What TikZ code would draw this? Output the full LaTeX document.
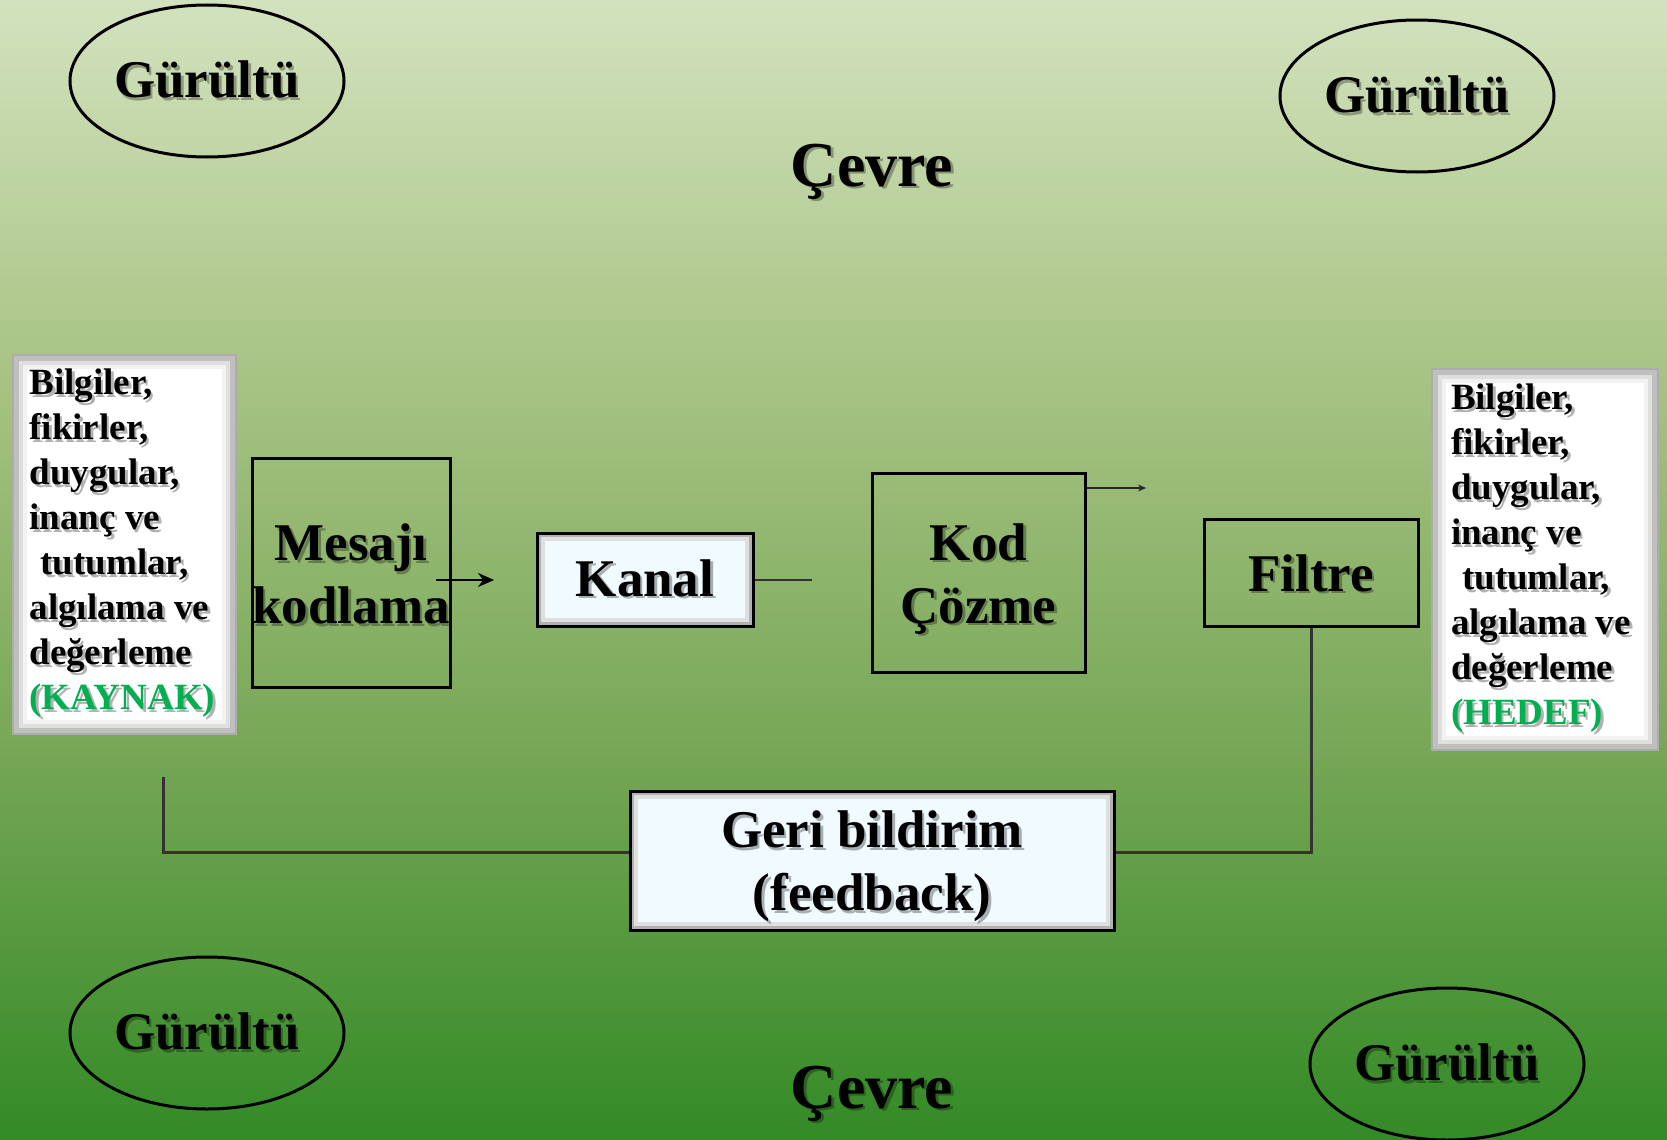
\documentclass[tikz,border=0pt]{standalone}
\usepackage{fontspec}
\setmainfont{Liberation Serif}
\usetikzlibrary{shapes.geometric,arrows.meta}
\definecolor{ctop}{HTML}{D3E2BE}
\definecolor{cm1}{HTML}{A7C383}
\definecolor{cm2}{HTML}{75A655}
\definecolor{cbot}{HTML}{338A26}
\definecolor{kgreen}{HTML}{00B050}
\definecolor{boxfill}{HTML}{F0FAFF}
\pgfdeclareverticalshading{bgshade}{100bp}{color(0bp)=(cbot); color(25bp)=(cbot); color(41.67bp)=(cm2); color(58.33bp)=(cm1); color(75bp)=(ctop); color(100bp)=(ctop)}
% text with a soft drop shadow
\newcommand\sh[1]{\leavevmode\rlap{\pgfsetfillopacity{0.3}\kern1.3pt\raisebox{-1.3pt}{\textcolor{black}{#1}}}\pgfsetfillopacity{1}#1}
\newcommand\shc[2]{\leavevmode\rlap{\pgfsetfillopacity{0.3}\kern1.3pt\raisebox{-1.3pt}{\textcolor{black}{#2}}}\pgfsetfillopacity{1}\textcolor{#1}{#2}}
\newcommand\twoline[3]{\raisebox{#1}[\height][\depth]{\begin{tabular}{@{}c@{}}#2\\#3\end{tabular}}}
\tikzset{
  big/.style={font=\fontsize{26.5pt}{31.5pt}\selectfont\bfseries},
  small/.style={font=\fontsize{18.5pt}{22.5pt}\selectfont\bfseries},
  noise/.style={ellipse, draw, line width=1.5pt, minimum width=137pt, minimum height=76pt, inner sep=0pt, big},
  plainbox/.style={rectangle, draw, line width=1.5pt, inner sep=0pt, big, align=center},
  bevelbox/.style={rectangle, draw, line width=1.5pt, fill=boxfill, inner sep=0pt, big, align=center,
    path picture={
      \draw[gray!60, line width=4pt] (path picture bounding box.south west) rectangle (path picture bounding box.north east);
      \draw[gray!25, line width=2pt] ([shift={(3pt,3pt)}]path picture bounding box.south west) rectangle ([shift={(-3pt,-3pt)}]path picture bounding box.north east);}},
  infobox/.style={rectangle, draw=gray!65, line width=1pt, fill=white, inner sep=0pt, small, align=flush left,
    path picture={
      \draw[gray!50, line width=6pt] (path picture bounding box.south west) rectangle (path picture bounding box.north east);
      \draw[gray!25, line width=2pt] ([shift={(4pt,4pt)}]path picture bounding box.south west) rectangle ([shift={(-4pt,-4pt)}]path picture bounding box.north east);
      \draw[gray!10, line width=2pt] ([shift={(6pt,6pt)}]path picture bounding box.south west) rectangle ([shift={(-6pt,-6pt)}]path picture bounding box.north east);}},
  fb/.style={draw=black!80, line width=1.5pt},
  envtext/.style={font=\fontsize{32pt}{38pt}\selectfont\bfseries, anchor=base, inner sep=0pt}
}
\begin{document}
\begin{tikzpicture}[x=0.5pt, y=-0.5pt]
\useasboundingbox (0,0) rectangle (1667,1140);
\fill[shading=bgshade] (0,0) rectangle (1667,1140);

% noise ellipses
\node[noise] (g1) at (207,81) {\sh{Gürültü}};
\node[noise] (g2) at (1417,96) {\sh{Gürültü}};
\node[noise] (g3) at (207,1033) {\sh{Gürültü}};
\node[noise] (g4) at (1447,1064) {\sh{Gürültü}};

% environment
\node[envtext] (cev1) at (872,186) {\sh{Çevre}};
\node[envtext] (cev2) at (872,1108) {\sh{Çevre}};

% source and target
\node[infobox, minimum width=111.5pt, minimum height=189.5pt, text width=95pt] (src) at (124.5,544.5)
  {\sh{Bilgiler,}\\ \sh{fikirler,}\\ \sh{duygular,}\\ \sh{inanç ve}\\ \hspace*{0.3em}\sh{tutumlar,}\\ \sh{algılama ve}\\ \sh{değerleme}\\ \shc{kgreen}{(KAYNAK)}};
\node[infobox, minimum width=113pt, minimum height=190.5pt, text width=94pt] (dst) at (1545,559.5)
  {\sh{Bilgiler,}\\ \sh{fikirler,}\\ \sh{duygular,}\\ \sh{inanç ve}\\ \hspace*{0.3em}\sh{tutumlar,}\\ \sh{algılama ve}\\ \sh{değerleme}\\ \shc{kgreen}{(HEDEF)}};

% process boxes
\node[plainbox, minimum width=99pt, minimum height=114.5pt] (mesaj) at (351,572.5) {\twoline{-3.5pt}{\sh{Mesajı}}{\sh{kodlama}}};
\node[bevelbox, minimum width=108pt, minimum height=46.5pt] (kanal) at (645,579.5) {\sh{Kanal}};
\node[plainbox, minimum width=106.5pt, minimum height=99.5pt] (kod) at (978.5,572.5) {\twoline{-3.3pt}{\sh{Kod}}{\sh{Çözme}}};
\node[plainbox, minimum width=107pt, minimum height=53.5pt] (filtre) at (1311,572.5) {\raisebox{-1pt}[\height][\depth]{\sh{Filtre}}};
\node[bevelbox, minimum width=242pt, minimum height=69.5pt] (geri) at (872,860.5) {\twoline{-3pt}{\sh{Geri bildirim}}{\sh{(feedback)}}};

% connectors
\coordinate (mout) at (494,580);
\draw[line width=1.3pt, -{Stealth[length=8pt,width=7pt]}] ([xshift=-8pt,yshift=-3.75pt]mesaj.east) -- (mout);
\coordinate (kend) at (812,580);
\draw[line width=1pt, black!80] (kanal.east) -- (kanal.east -| kend);
\coordinate (kodout) at (1146,488);
\draw[line width=0.8pt, black!85, -{Stealth[length=4pt,width=3.5pt]}] (kod.east |- kodout) -- (kodout);
\coordinate (fbstart) at (163,777);
\draw[fb] (fbstart) |- ([yshift=4.25pt]geri.west);
\draw[fb] (filtre.south) |- ([yshift=4.25pt]geri.east);
\end{tikzpicture}
\end{document}
